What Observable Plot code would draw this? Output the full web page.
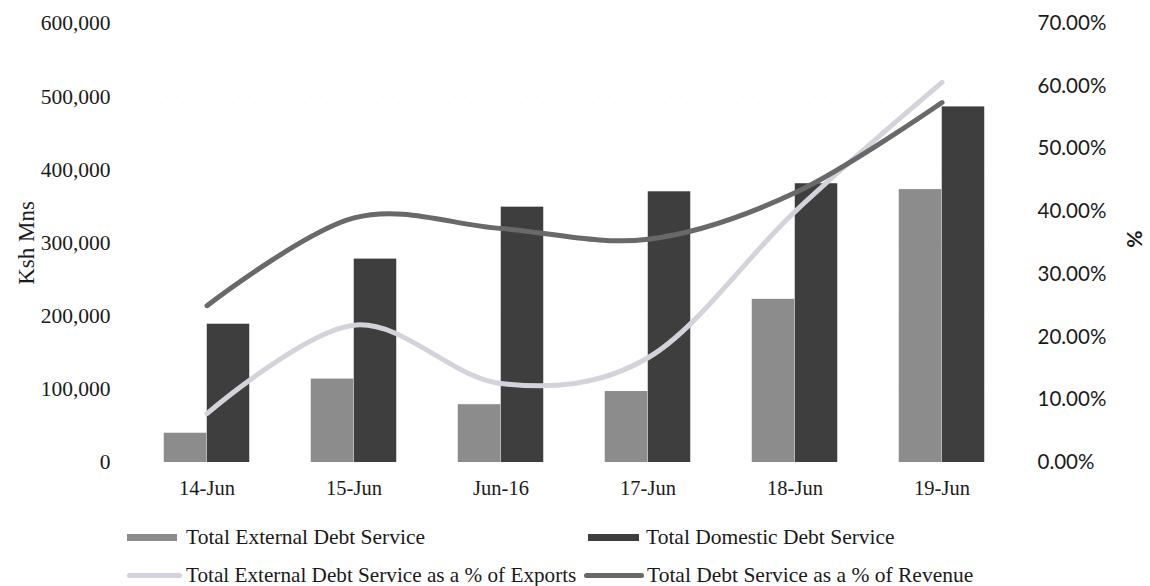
<!DOCTYPE html>
<html>
<head>
<meta charset="utf-8">
<script src="https://cdn.jsdelivr.net/npm/d3@7"></script>
<script src="https://cdn.jsdelivr.net/npm/@observablehq/plot@0.6"></script>
<style>
  html, body { margin: 0; padding: 0; background: #fff; }
  #chart { width: 1150px; height: 505px; }
  .legend { position: relative; width: 1150px; height: 81px; font-family: "Liberation Serif", serif; font-size: 21.5px; color: #1a1a1a; }
  .item { position: absolute; display: flex; align-items: center; white-space: nowrap; line-height: 24px; }
  .sw { display: inline-block; width: 51px; }
</style>
</head>
<body>
<div id="chart"></div>
<div class="legend" id="legend"></div>
<script>
const categories = ["14-Jun", "15-Jun", "Jun-16", "17-Jun", "18-Jun", "19-Jun"];
const externalDebt = [40000, 114000, 79000, 97000, 223000, 373000];
const domesticDebt = [189000, 278000, 349000, 370000, 381000, 486000];
const pctExports = [7.8, 21.9, 12.6, 16.7, 40.0, 60.6];
const pctRevenue = [25.0, 39.0, 37.3, 35.6, 43.0, 57.4];
const leftTicks = [0, 100000, 200000, 300000, 400000, 500000, 600000];
const rightTicks = [0, 10, 20, 30, 40, 50, 60, 70];
const seriesNames = [
  "Total External Debt Service",
  "Total Domestic Debt Service",
  "Total External Debt Service as a % of Exports",
  "Total Debt Service as a % of Revenue"
];
const colors = ["#8c8c8c", "#3e3e3e", "#d3d4db", "#696969"];

const K = 600000 / 70; // percent -> left-axis units
const rows = categories.map((c, i) => ({
  cat: c, ext: externalDebt[i], dom: domesticDebt[i],
  exp: pctExports[i] * K, rev: pctRevenue[i] * K
}));

const W = 1150, H = 505;
const bandHalf = (W - 131 - 134) / categories.length / 2;
const barW = 43;

const chart = Plot.plot({
  width: W, height: H,
  marginLeft: 131, marginRight: 134, marginTop: 23, marginBottom: H - 462,
  x: { type: "band", domain: categories, padding: 0 },
  y: { domain: [0, 600000] },
  style: { background: "#fff", color: "#1a1a1a" },
  marks: [
    Plot.gridY(leftTicks.slice(1), { stroke: "#e8e8e8", strokeOpacity: 0.5, strokeDasharray: "1,8" }),
    Plot.barY(rows, { x: "cat", y: "ext", fill: colors[0], insetLeft: bandHalf - barW, insetRight: bandHalf }),
    Plot.barY(rows, { x: "cat", y: "dom", fill: colors[1], insetLeft: bandHalf, insetRight: bandHalf - barW }),
    Plot.line(rows, { x: "cat", y: "exp", stroke: colors[2], strokeWidth: 5, curve: "cardinal" }),
    Plot.line(rows, { x: "cat", y: "rev", stroke: colors[3], strokeWidth: 5, curve: "cardinal" }),
    Plot.axisY({ anchor: "left", ticks: leftTicks, tickFormat: d3.format(","), tickSize: 0, tickPadding: 21,
      label: null, fontSize: 21.5, fontFamily: "Liberation Serif", fill: "#1a1a1a" }),
    Plot.axisY({ anchor: "right", ticks: rightTicks.map(p => p * K), tickFormat: d => (d / K).toFixed(2) + "%",
      tickSize: 0, tickPadding: 21, label: null, fontSize: 20.5, fontFamily: "Lato", fill: "#1a1a1a" }),
    Plot.axisX({ tickSize: 0, tickPadding: 18, label: null, fontSize: 20.5, fontFamily: "Liberation Serif", fill: "#1a1a1a" }),
    Plot.text(["Ksh Mns"], { frameAnchor: "left", textAnchor: "middle", dx: -105, rotate: -90, fontSize: 23,
      fontFamily: "Liberation Serif", fill: "#1a1a1a" }),
    Plot.text(["%"], { frameAnchor: "right", textAnchor: "middle", dx: 117, dy: -4, rotate: 90, fontSize: 21, fontWeight: "bold",
      fontFamily: "Lato", fill: "#1a1a1a" })
  ]
});
document.getElementById("chart").appendChild(chart);

const legend = document.getElementById("legend");
const pos = [[127, 32, 9, 50], [588, 32, 7, 51], [127, 70, 4, 55], [584, 70, 3, 60]];
seriesNames.forEach((name, i) => {
  const it = document.createElement("div");
  it.className = "item";
  it.style.left = pos[i][0] + "px";
  it.style.top = (pos[i][1] - 12) + "px";
  if (i === 2) it.style.fontSize = "21.2px";
  const sw = document.createElement("span");
  sw.className = "sw";
  sw.style.background = colors[i];
  sw.style.height = i < 2 ? "7px" : "5px";
  sw.style.borderRadius = i < 2 ? "0" : "3px";
  sw.style.marginRight = pos[i][2] + "px";
  sw.style.width = pos[i][3] + "px";
  it.appendChild(sw);
  it.appendChild(document.createTextNode(name));
  legend.appendChild(it);
});
</script>
</body>
</html>
